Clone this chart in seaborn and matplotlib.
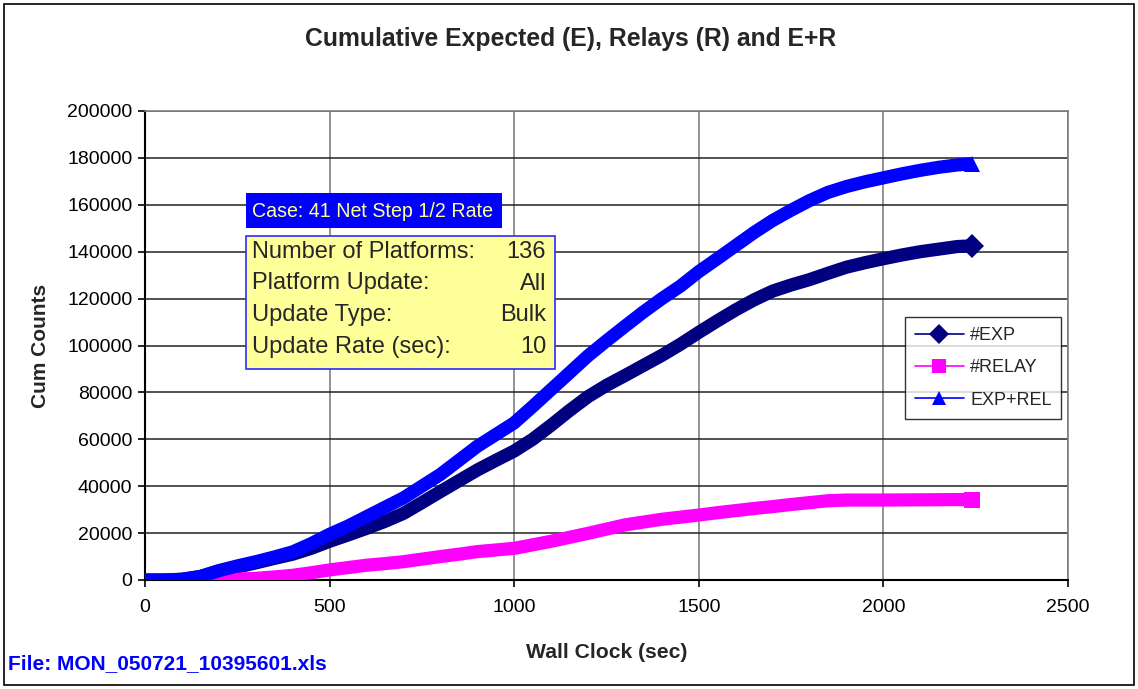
import pandas as pd
import matplotlib
matplotlib.use("Agg")
import matplotlib.pyplot as plt
from matplotlib.lines import Line2D
from matplotlib.patches import Rectangle
import seaborn as sns

# values
wall_clock = [0, 50, 100, 150, 200, 250, 300, 350, 400, 450, 500, 550, 600, 650, 700, 750,
              800, 850, 900, 950, 1000, 1050, 1100, 1150, 1200, 1250, 1300, 1350, 1400, 1450,
              1500, 1550, 1600, 1650, 1700, 1750, 1800, 1850, 1900, 1950, 2000, 2050, 2100,
              2150, 2200, 2240]
exp_counts = [0, 0, 300, 1500, 3800, 5500, 7300, 9200, 11000,
              13500, 16500, 19200, 22000, 25000, 28400, 33000, 37700, 42300, 46900,
              51000, 55000, 60000, 66000, 72300, 78200, 83000, 87200, 91500, 95800,
              100500, 105600, 110500, 115200, 119500, 123200, 125800, 128100, 130800, 133400,
              135300, 137000, 138600, 140000, 141100, 142200, 142500]
relay_counts = [0, 0, 0, 0, 200, 400, 700, 1300, 2000,
                3100, 4300, 5300, 6300, 7000, 7800, 8900, 10000, 11000, 12100,
                12800, 13500, 15000, 16500, 18200, 19900, 21700, 23500, 24700, 25900,
                26800, 27700, 28700, 29600, 30500, 31300, 32200, 33000, 33800, 34100,
                34100, 34100, 34150, 34200, 34250, 34300, 34300]
exp_rel_counts = [0, 0, 300, 1500, 4000, 6000, 7800, 9800, 12000,
                  15500, 19500, 23000, 27000, 31000, 35000, 40000, 45000, 51000, 57000,
                  62000, 67000, 74000, 81200, 88400, 95600, 102000, 108200, 114300, 120000,
                  125300, 131500, 137000, 142600, 148200, 153300, 157700, 161800, 165300, 167800,
                  169800, 171500, 173200, 174700, 176000, 177000, 177500]

series_names = ["#EXP", "#RELAY", "EXP+REL"]
series_colors = ["#000080", "#FF00FF", "#0000FF"]
series_markers = ["D", "s", "^"]

info_labels = ["Number of Platforms:", "Platform Update:", "Update Type:", "Update Rate (sec):"]
info_values = ["136", "All", "Bulk", "10"]

df = pd.DataFrame({"Wall Clock": wall_clock * 3,
                   "Cum Counts": exp_counts + relay_counts + exp_rel_counts,
                   "series": sum([[n] * len(wall_clock) for n in series_names], [])})

sns.set_style("white")
plt.rcParams["font.family"] = ["Liberation Sans", "DejaVu Sans"]

fig = plt.figure(figsize=(11.38, 6.89), dpi=100)
ax = fig.add_axes([145 / 1138, 1 - 580 / 689, (1068 - 145) / 1138, 469 / 689])

for name, color, mk in zip(series_names, series_colors, series_markers):
    sub = df[df["series"] == name]
    sns.lineplot(data=sub, x="Wall Clock", y="Cum Counts", color=color, lw=9.5,
                 marker=mk, markersize=12, markevery=[len(sub) - 1], markeredgewidth=0,
                 solid_capstyle="butt", solid_joinstyle="round", ax=ax, legend=False, zorder=3)

ax.set_xlim(0, 2500)
ax.set_ylim(0, 200000)
ax.set_xticks(range(0, 2501, 500))
ax.set_yticks(range(0, 200001, 20000))
ax.set_yticklabels([str(v) for v in range(0, 200001, 20000)])
ax.tick_params(axis="both", labelsize=14, direction="out", length=5, width=1.2,
               colors="black", left=True, bottom=True)
ax.tick_params(axis="x", pad=9)
ax.tick_params(axis="y", pad=4)
ax.grid(axis="y", color="#222222", lw=1.1, zorder=1)
ax.grid(axis="x", color="#808080", lw=1.2, zorder=1)
for side in ["top", "right"]:
    ax.spines[side].set_color("#808080")
    ax.spines[side].set_linewidth(1.2)
for side in ["left", "bottom"]:
    ax.spines[side].set_color("black")
    ax.spines[side].set_linewidth(1.5)

ax.set_xlabel("Wall Clock (sec)", fontsize=15.2, fontweight="bold", labelpad=19)
ax.set_ylabel("Cum Counts", fontsize=15, fontweight="bold", labelpad=12)
fig.text(571 / 1138, 1 - 39 / 689, "Cumulative Expected (E), Relays (R) and E+R",
         ha="center", va="center", fontsize=17.8, fontweight="bold")
fig.text(8 / 1138, 1 - 664 / 689, "File: MON_050721_10395601.xls", color="#0000FF",
         ha="left", va="center", fontsize=15, fontweight="bold")

handles = [Line2D([0], [0], color=c, lw=1.2, marker=m, markersize=10, markeredgewidth=0)
           for c, m in zip(series_colors, series_markers)]
leg = ax.legend(handles, series_names, loc="upper left",
                bbox_to_anchor=((905 - 145) / 923, 1 - (317 - 111) / 469),
                fontsize=13, frameon=True, fancybox=False, borderpad=0.55, labelspacing=0.85,
                handlelength=2.7, handletextpad=0.35, borderaxespad=0)
leg.get_frame().set_edgecolor("black")
leg.get_frame().set_linewidth(1.0)

# info boxes
fig.patches.append(Rectangle((246 / 1138, 1 - 228 / 689), (502 - 246) / 1138, 35 / 689,
                             transform=fig.transFigure, facecolor="#0000FF", edgecolor="none", zorder=5))
fig.text(252 / 1138, 1 - 211 / 689, "Case: 41 Net Step 1/2 Rate", color="#FFFF99",
         fontsize=14.1, ha="left", va="center", zorder=6)
fig.patches.append(Rectangle((246 / 1138, 1 - 369 / 689), (555 - 246) / 1138, 133 / 689,
                             transform=fig.transFigure, facecolor="#FFFF99", edgecolor="#2B2BFF",
                             lw=1.2, zorder=5))
for i, (lab, val) in enumerate(zip(info_labels, info_values)):
    y = 1 - (252 + 31.5 * i) / 689
    fig.text(252 / 1138, y, lab, fontsize=17, ha="left", va="center", zorder=6)
    fig.text(546 / 1138, y, val, fontsize=17, ha="right", va="center", zorder=6)

fig.patches.append(Rectangle((4 / 1138, 4 / 689), 1130 / 1138, 681 / 689, transform=fig.transFigure,
                             facecolor="none", edgecolor="black", lw=1.2, zorder=0))

fig.savefig("out.png", dpi=100, facecolor="white")
